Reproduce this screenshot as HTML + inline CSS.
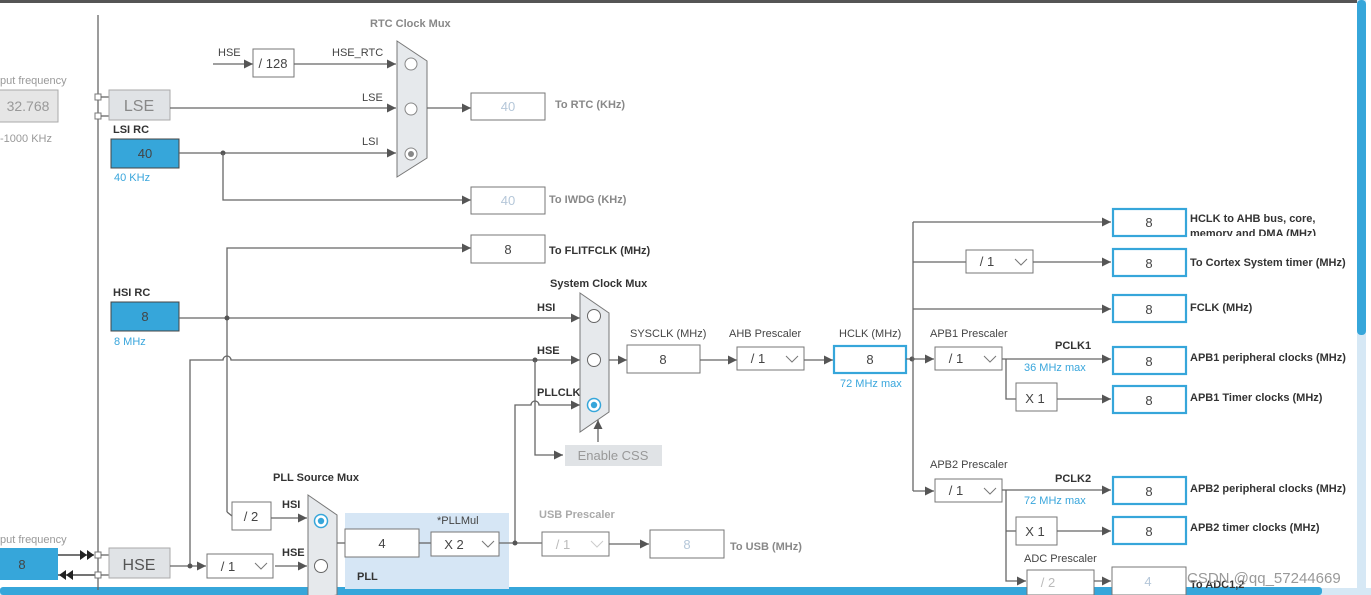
<!DOCTYPE html>
<html><head><meta charset="utf-8"><style>
html,body{margin:0;padding:0;background:#fff;width:1371px;height:595px;overflow:hidden}
svg{display:block;font-family:"Liberation Sans",sans-serif}
.l{stroke:#666;stroke-width:1.3;fill:none}
.t{font-size:11px;fill:#444}
.b{font-size:11px;fill:#333;font-weight:bold}
.g{font-size:11px;fill:#999}
.bl{font-size:11px;fill:#39a6dc}
.box{fill:#fff;stroke:#777;stroke-width:1}
.ob{fill:#fff;stroke:#36a6da;stroke-width:2.2}
.v{font-size:13px;fill:#444;text-anchor:middle}
</style></head><body>
<svg width="1371" height="595" viewBox="0 0 1371 595">
<defs>
<marker id="a" viewBox="0 0 10 10" refX="10" refY="5" markerWidth="9" markerHeight="9" markerUnits="userSpaceOnUse" orient="auto"><path d="M0,0L10,5L0,10z" fill="#555"/></marker>
</defs>
<rect x="0" y="0" width="1357" height="3" fill="#555"/>
<rect x="1357" y="0" width="9" height="590" fill="#d6e8f5"/>
<rect x="1357" y="0" width="9" height="335" rx="4" fill="#36a6da"/>
<rect x="0" y="588" width="1371" height="7" fill="#d6e8f5"/>
<rect x="0" y="587" width="1322" height="8" rx="3" fill="#36a6da"/>

<!-- left column -->
<line class="l" x1="98" y1="15" x2="98" y2="590"/>
<text class="g" x="0" y="84">put frequency</text>
<rect x="-2" y="90" width="60" height="32" fill="#e6e6e6" stroke="#aaa"/>
<text x="28" y="111" font-size="14" fill="#999" text-anchor="middle">32.768</text>
<text class="g" x="0" y="142">-1000 KHz</text>
<rect x="95" y="94" width="6" height="6" fill="#fff" stroke="#777"/>
<rect x="95" y="113" width="6" height="6" fill="#fff" stroke="#777"/>
<line class="l" x1="101" y1="97" x2="109" y2="97"/><line class="l" x1="101" y1="116" x2="109" y2="116"/>
<rect x="109" y="90" width="61" height="30" fill="#e0e3e6" stroke="#aaa"/>
<text x="139" y="111" font-size="16" fill="#888" text-anchor="middle">LSE</text>
<text class="b" x="113" y="133">LSI RC</text>
<rect x="111" y="139" width="68" height="29" fill="#36a6da" stroke="#444"/>
<text class="v" x="145" y="158">40</text>
<text class="bl" x="114" y="181">40 KHz</text>

<!-- RTC -->
<text class="b" x="370" y="27" fill="#888" style="fill:#888">RTC Clock Mux</text>
<line class="l" x1="213" y1="64" x2="253" y2="64" marker-end="url(#a)"/>
<text class="t" x="218" y="56">HSE</text>
<rect class="box" x="253" y="49" width="41" height="28"/>
<text class="v" x="273" y="68">/ 128</text>
<line class="l" x1="294" y1="64" x2="396" y2="64" marker-end="url(#a)"/>
<text class="t" x="332" y="56">HSE_RTC</text>
<line class="l" x1="170" y1="108" x2="396" y2="108" marker-end="url(#a)"/>
<text class="t" x="362" y="101">LSE</text>
<line class="l" x1="179" y1="153" x2="396" y2="153" marker-end="url(#a)"/>
<text class="t" x="362" y="145">LSI</text>
<circle cx="223" cy="153" r="2.5" fill="#555"/>
<polyline class="l" points="223,153 223,200 471,200" marker-end="url(#a)"/>
<path d="M397,41L427,61L427,158L397,177Z" fill="#e6e9ec" stroke="#777"/>
<circle cx="411" cy="64" r="6" fill="#fff" stroke="#888"/>
<circle cx="411" cy="109" r="6" fill="#fff" stroke="#888"/>
<circle cx="411" cy="154" r="6" fill="#fff" stroke="#888"/><circle cx="411" cy="154" r="3" fill="#888"/>
<line class="l" x1="427" y1="108" x2="471" y2="108" marker-end="url(#a)"/>
<rect class="box" x="471" y="93" width="74" height="27"/>
<text x="508" y="111" font-size="13" fill="#aac" text-anchor="middle" style="fill:#b5c7d9">40</text>
<text class="b" x="555" y="108" style="fill:#888">To RTC (KHz)</text>
<rect class="box" x="471" y="187" width="74" height="27"/>
<text x="508" y="205" font-size="13" text-anchor="middle" fill="#b5c7d9">40</text>
<text class="b" x="549" y="203" style="fill:#888">To IWDG (KHz)</text>

<!-- FLITF -->
<polyline class="l" points="227,512 227,248 471,248" marker-end="url(#a)"/>
<rect class="box" x="471" y="235" width="74" height="28"/>
<text class="v" x="508" y="254">8</text>
<text class="b" x="549" y="254">To FLITFCLK (MHz)</text>

<!-- HSI -->
<text class="b" x="113" y="296">HSI RC</text>
<rect x="111" y="302" width="68" height="29" fill="#36a6da" stroke="#444"/>
<text class="v" x="145" y="321">8</text>
<text class="bl" x="114" y="345">8 MHz</text>
<line class="l" x1="179" y1="318" x2="580" y2="318" marker-end="url(#a)"/>
<circle cx="227" cy="318" r="2.5" fill="#555"/>
<text class="b" x="537" y="311">HSI</text>
<path class="l" d="M190,566L190,360L223,360A4,4 0 0 1 231,360L580,360" marker-end="url(#a)"/>
<text class="b" x="537" y="354">HSE</text>
<circle cx="535" cy="360" r="2.5" fill="#555"/>
<polyline class="l" points="535,360 535,455 563,455" marker-end="url(#a)"/>
<rect x="565" y="445" width="97" height="21" fill="#e0e3e6"/>
<text x="613" y="460" font-size="13" fill="#999" text-anchor="middle">Enable CSS</text>
<path class="l" d="M515,543L515,405L531,405A4,4 0 0 1 539,405L580,405" marker-end="url(#a)"/>
<text class="b" x="537" y="396">PLLCLK</text>
<text class="b" x="550" y="287">System Clock Mux</text>
<path d="M580,293L609,313L609,412L580,432Z" fill="#e6e9ec" stroke="#777"/>
<circle cx="594" cy="316" r="6.5" fill="#fff" stroke="#666"/>
<circle cx="594" cy="360" r="6.5" fill="#fff" stroke="#666"/>
<circle cx="594" cy="405" r="6.5" fill="#fff" stroke="#36a6da" stroke-width="1.5"/><circle cx="594" cy="405" r="3.2" fill="#36a6da"/>
<line class="l" x1="598" y1="442" x2="598" y2="420" marker-end="url(#a)"/>
<line class="l" x1="609" y1="360" x2="627" y2="360" marker-end="url(#a)"/>
<text class="t" x="630" y="337">SYSCLK (MHz)</text>
<rect class="box" x="627" y="345" width="73" height="28"/>
<text class="v" x="663" y="364">8</text>
<line class="l" x1="700" y1="360" x2="737" y2="360" marker-end="url(#a)"/>
<text class="t" x="729" y="337">AHB Prescaler</text>
<rect class="box" x="737" y="347" width="67" height="23"/>
<text class="v" x="758" y="363">/ 1</text>
<path d="M786,356l6,6l6,-6" fill="none" stroke="#777"/>
<line class="l" x1="804" y1="360" x2="833" y2="360" marker-end="url(#a)"/>
<text class="t" x="839" y="337">HCLK (MHz)</text>
<rect class="ob" x="834" y="346" width="72" height="27"/>
<text class="v" x="870" y="364">8</text>
<text class="bl" x="840" y="387">72 MHz max</text>

<!-- right tree -->
<line class="l" x1="906" y1="359" x2="934" y2="359" marker-end="url(#a)"/>
<circle cx="912" cy="359" r="2.5" fill="#555"/>
<line class="l" x1="913" y1="222" x2="913" y2="491"/>
<line class="l" x1="913" y1="491" x2="934" y2="491" marker-end="url(#a)"/>
<line class="l" x1="913" y1="222" x2="1111" y2="222" marker-end="url(#a)"/>
<line class="l" x1="913" y1="262" x2="966" y2="262"/>
<rect class="box" x="966" y="250" width="67" height="23"/>
<text class="v" x="987" y="266">/ 1</text>
<path d="M1015,259l6,6l6,-6" fill="none" stroke="#777"/>
<line class="l" x1="1033" y1="262" x2="1111" y2="262" marker-end="url(#a)"/>
<line class="l" x1="913" y1="309" x2="1111" y2="309" marker-end="url(#a)"/>
<text class="t" x="930" y="337">APB1 Prescaler</text>
<rect class="box" x="935" y="347" width="67" height="23"/>
<text class="v" x="956" y="363">/ 1</text>
<path d="M984,356l6,6l6,-6" fill="none" stroke="#777"/>
<text class="b" x="1055" y="349">PCLK1</text>
<text class="bl" x="1024" y="371">36 MHz max</text>
<line class="l" x1="1002" y1="359" x2="1111" y2="359" marker-end="url(#a)"/>
<polyline class="l" points="1006,359 1006,399 1016,399"/>
<rect class="box" x="1016" y="383" width="41" height="28"/>
<text class="v" x="1035" y="403">X 1</text>
<line class="l" x1="1057" y1="399" x2="1111" y2="399" marker-end="url(#a)"/>
<text class="t" x="930" y="468">APB2 Prescaler</text>
<rect class="box" x="935" y="479" width="67" height="23"/>
<text class="v" x="956" y="495">/ 1</text>
<path d="M984,488l6,6l6,-6" fill="none" stroke="#777"/>
<text class="b" x="1055" y="482">PCLK2</text>
<text class="bl" x="1024" y="504">72 MHz max</text>
<line class="l" x1="1002" y1="490" x2="1111" y2="490" marker-end="url(#a)"/>
<polyline class="l" points="1006,490 1006,581 1026,581" marker-end="url(#a)"/>
<line class="l" x1="1006" y1="531" x2="1016" y2="531"/>
<rect class="box" x="1016" y="517" width="41" height="28"/>
<text class="v" x="1035" y="536">X 1</text>
<line class="l" x1="1057" y1="531" x2="1111" y2="531" marker-end="url(#a)"/>
<text class="t" x="1024" y="562">ADC Prescaler</text>
<rect class="box" x="1027" y="570" width="67" height="25" stroke="#bbb"/>
<text x="1048" y="587" font-size="13" fill="#bbb" text-anchor="middle">/ 2</text>
<line class="l" x1="1094" y1="581" x2="1111" y2="581" marker-end="url(#a)"/>
<rect class="box" x="1112" y="567" width="74" height="28" stroke="#bbb"/>
<text x="1148" y="586" font-size="13" fill="#b5c7d9" text-anchor="middle">4</text>

<rect class="ob" x="1113" y="209" width="73" height="27"/><text class="v" x="1149" y="227">8</text>
<rect class="ob" x="1113" y="249" width="73" height="27"/><text class="v" x="1149" y="268">8</text>
<rect class="ob" x="1113" y="295" width="73" height="27"/><text class="v" x="1149" y="314">8</text>
<rect class="ob" x="1113" y="347" width="73" height="27"/><text class="v" x="1149" y="366">8</text>
<rect class="ob" x="1113" y="386" width="73" height="27"/><text class="v" x="1149" y="405">8</text>
<rect class="ob" x="1113" y="477" width="73" height="27"/><text class="v" x="1149" y="496">8</text>
<rect class="ob" x="1113" y="517" width="73" height="27"/><text class="v" x="1149" y="536">8</text>
<text class="b" x="1190" y="222">HCLK to AHB bus, core,</text>
<svg x="1190" y="224" width="170" height="12"><text class="b" x="0" y="13">memory and DMA (MHz)</text></svg>
<text class="b" x="1190" y="266">To Cortex System timer (MHz)</text>
<text class="b" x="1190" y="311">FCLK (MHz)</text>
<text class="b" x="1190" y="361">APB1 peripheral clocks (MHz)</text>
<text class="b" x="1190" y="401">APB1 Timer clocks (MHz)</text>
<text class="b" x="1190" y="492">APB2 peripheral clocks (MHz)</text>
<text class="b" x="1190" y="531">APB2 timer clocks (MHz)</text>
<text class="b" x="1190" y="588">To ADC1,2</text>
<text x="1187" y="583" font-size="15" fill="#999">CSDN @qq_57244669</text>

<!-- bottom left HSE / PLL -->
<text class="g" x="0" y="543">put frequency</text>
<rect x="-2" y="548" width="60" height="32" fill="#36a6da"/>
<text class="v" x="22" y="569">8</text>
<line x1="58" y1="555" x2="94" y2="555" stroke="#222" stroke-width="1.3"/>
<path d="M80,550l7,5l-7,5zM87,550l7,5l-7,5z" fill="#222"/>
<line x1="58" y1="575" x2="95" y2="575" stroke="#222" stroke-width="1.3"/>
<path d="M66,570l-7,5l7,5zM73,570l-7,5l7,5z" fill="#222"/>
<rect x="95" y="552" width="6" height="6" fill="#fff" stroke="#777"/>
<rect x="95" y="572" width="6" height="6" fill="#fff" stroke="#777"/>
<line class="l" x1="101" y1="555" x2="109" y2="555"/><line class="l" x1="101" y1="575" x2="109" y2="575"/>
<rect x="109" y="548" width="61" height="30" fill="#e0e3e6" stroke="#aaa"/>
<text x="139" y="570" font-size="16" fill="#555" text-anchor="middle">HSE</text>
<line class="l" x1="170" y1="566" x2="206" y2="566" marker-end="url(#a)"/>
<circle cx="190" cy="566" r="2.5" fill="#555"/>
<rect class="box" x="207" y="554" width="66" height="24"/>
<text class="v" x="228" y="571">/ 1</text>
<path d="M255,563l6,6l6,-6" fill="none" stroke="#777"/>
<line class="l" x1="275" y1="566" x2="307" y2="566" marker-end="url(#a)"/>
<text class="b" x="282" y="556">HSE</text>
<line class="l" x1="227" y1="512" x2="232" y2="516"/>
<rect class="box" x="232" y="502" width="39" height="28"/>
<text class="v" x="251" y="521">/ 2</text>
<line class="l" x1="271" y1="518" x2="307" y2="518" marker-end="url(#a)"/>
<text class="b" x="282" y="508">HSI</text>
<text class="b" x="273" y="481">PLL Source Mux</text>
<path d="M308,495L337,515L337,595L308,600Z" fill="#e6e9ec" stroke="#777"/>
<circle cx="321" cy="521" r="6.5" fill="#fff" stroke="#36a6da" stroke-width="1.5"/><circle cx="321" cy="521" r="3.2" fill="#36a6da"/>
<circle cx="321" cy="566" r="6.5" fill="#fff" stroke="#666"/>
<rect x="345" y="513" width="164" height="76" fill="#d6e6f5"/>
<line class="l" x1="337" y1="543" x2="345" y2="543"/>
<rect class="box" x="345" y="529" width="74" height="28"/>
<text class="v" x="382" y="548">4</text>
<line class="l" x1="419" y1="543" x2="431" y2="543"/>
<text class="t" x="437" y="524">*PLLMul</text>
<rect class="box" x="431" y="532" width="68" height="24"/>
<text class="v" x="454" y="549">X 2</text>
<path d="M482,541l6,6l6,-6" fill="none" stroke="#777"/>
<text class="b" x="357" y="580">PLL</text>
<line class="l" x1="499" y1="543" x2="542" y2="543"/>
<circle cx="515" cy="543" r="2.5" fill="#555"/>
<text class="b" x="539" y="518" style="fill:#aaa">USB Prescaler</text>
<rect class="box" x="542" y="532" width="67" height="24" stroke="#bbb"/>
<text x="563" y="549" font-size="13" fill="#bbb" text-anchor="middle">/ 1</text>
<path d="M591,541l6,6l6,-6" fill="none" stroke="#ccc"/>
<line class="l" x1="609" y1="544" x2="649" y2="544" marker-end="url(#a)"/>
<rect class="box" x="650" y="530" width="74" height="28" stroke="#999"/>
<text x="687" y="549" font-size="13" fill="#b5c7d9" text-anchor="middle">8</text>
<text class="b" x="730" y="550" style="fill:#888">To USB (MHz)</text>
</svg>
</body></html>
